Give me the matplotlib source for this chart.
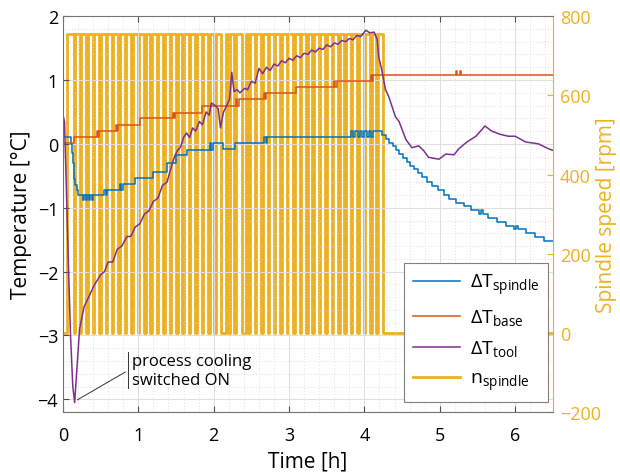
import numpy as np
import matplotlib.pyplot as plt
from matplotlib.ticker import MultipleLocator

plt.rcParams['font.family'] = ['Open Sans', 'DejaVu Sans']

BLUE = (0.0, 0.447, 0.741)
RED = (0.85, 0.325, 0.098)
PURPLE = (0.494, 0.184, 0.556)
YEL = (0.929, 0.694, 0.125)

# spindle temperature (steps)
sp_t = [0.00, 0.11, 0.12, 0.13, 0.14, 0.15, 0.16, 0.18, 0.20, 0.26, 0.28, 0.30, 0.32, 0.34, 0.36, 0.38,
        0.40, 0.55, 0.57, 0.59, 0.61, 0.75, 0.77, 0.79, 0.95, 1.20, 1.38, 1.50, 1.64, 1.95, 1.97, 1.99,
        2.01, 2.12, 2.28, 2.67, 2.69, 2.71, 3.82, 3.85, 3.88, 3.91, 3.94, 3.97, 4.00, 4.03, 4.06, 4.09,
        4.12, 4.15, 4.24, 4.28, 4.33, 4.38, 4.42, 4.46, 4.51, 4.56, 4.61, 4.66, 4.71, 4.76, 4.83, 4.90,
        4.97, 5.05, 5.12, 5.22, 5.32, 5.42, 5.52, 5.55, 5.58, 5.64, 5.76, 5.88, 5.98, 6.01, 6.04, 6.14,
        6.26, 6.38, 6.50]
sp_T = [0.10, 0.00, -0.15, -0.30, -0.45, -0.55, -0.65, -0.72, -0.80, -0.88, -0.80, -0.88, -0.80, -0.88, -0.80, -0.88,
        -0.80, -0.72, -0.80, -0.72, -0.72, -0.63, -0.72, -0.63, -0.53, -0.44, -0.30, -0.17, -0.09, 0.02, -0.09, 0.02,
        0.02, -0.08, 0.02, 0.11, 0.02, 0.11, 0.20, 0.11, 0.20, 0.11, 0.20, 0.11, 0.20, 0.11, 0.20, 0.11,
        0.20, 0.20, 0.14, 0.08, 0.02, -0.04, -0.10, -0.16, -0.22, -0.28, -0.34, -0.40, -0.46, -0.52, -0.60, -0.66,
        -0.72, -0.80, -0.86, -0.92, -0.98, -1.04, -1.10, -1.04, -1.10, -1.16, -1.22, -1.28, -1.34, -1.28, -1.34, -1.40,
        -1.46, -1.52, -1.52]

# base temperature (steps)
bs_t = [0.00, 0.15, 0.45, 0.465, 0.48, 0.495, 0.70, 0.715, 0.73, 0.745, 1.02, 1.46, 1.475, 1.49, 1.505,
        1.84, 2.30, 2.315, 2.33, 2.345, 2.67, 2.685, 2.70, 2.715, 3.09, 3.60, 3.615, 3.63, 3.645,
        4.09, 4.105, 4.12, 4.135, 5.22, 5.235, 5.27, 5.285, 6.50]
bs_T = [0.02, 0.10, 0.20, 0.10, 0.20, 0.20, 0.30, 0.20, 0.30, 0.30, 0.40, 0.48, 0.40, 0.48, 0.48,
        0.60, 0.70, 0.60, 0.70, 0.70, 0.80, 0.70, 0.80, 0.80, 0.89, 0.98, 0.89, 0.98, 0.98,
        1.08, 0.98, 1.08, 1.08, 1.14, 1.08, 1.14, 1.08, 1.08]

# tool temperature
tl_t = [0.00, 0.02, 0.04, 0.07, 0.10, 0.13, 0.155, 0.18, 0.22, 0.28, 0.36, 0.42, 0.50, 0.55, 0.60, 0.66,
        0.72, 0.78, 0.85, 0.90, 0.96, 1.02, 1.08, 1.14, 1.20, 1.26, 1.32, 1.38, 1.44, 1.48, 1.52, 1.56,
        1.60, 1.64, 1.68, 1.72, 1.76, 1.81, 1.85, 1.90, 1.94, 1.97, 2.02, 2.06, 2.09, 2.13, 2.17, 2.21,
        2.24, 2.27, 2.31, 2.35, 2.41, 2.45, 2.50, 2.55, 2.60, 2.65, 2.70, 2.75, 2.80, 2.85, 2.90, 2.95,
        3.00, 3.05, 3.10, 3.15, 3.20, 3.25, 3.30, 3.35, 3.40, 3.45, 3.50, 3.55, 3.60, 3.65, 3.70, 3.75,
        3.80, 3.85, 3.90, 3.95, 4.02, 4.07, 4.13, 4.17, 4.19, 4.23, 4.28, 4.32, 4.41, 4.46, 4.55, 4.63,
        4.72, 4.79, 4.85, 4.99, 5.08, 5.19, 5.25, 5.36, 5.48, 5.60, 5.69, 5.80, 5.91, 6.00, 6.14, 6.31,
        6.45, 6.50]
tl_T = [0.45, 0.35, -0.50, -1.80, -3.00, -3.80, -4.05, -3.60, -2.90, -2.55, -2.35, -2.20, -2.05, -2.00, -1.85, -1.85,
        -1.65, -1.60, -1.45, -1.45, -1.30, -1.25, -1.10, -1.05, -0.90, -0.85, -0.65, -0.60, -0.35, -0.20, -0.10, -0.05,
        0.10, 0.17, 0.10, 0.25, 0.20, 0.35, 0.30, 0.50, 0.45, 0.64, 0.60, 0.55, 0.25, 0.50, 0.59, 0.70,
        1.12, 0.82, 0.85, 0.80, 0.87, 0.85, 0.98, 0.95, 1.18, 1.10, 1.20, 1.15, 1.25, 1.22, 1.30, 1.27,
        1.34, 1.31, 1.38, 1.35, 1.42, 1.40, 1.47, 1.44, 1.50, 1.48, 1.55, 1.52, 1.58, 1.56, 1.62, 1.60,
        1.65, 1.63, 1.70, 1.68, 1.78, 1.74, 1.75, 1.63, 1.36, 1.16, 0.85, 0.75, 0.43, 0.35, 0.07, -0.06,
        -0.03, -0.11, -0.21, -0.24, -0.16, -0.17, -0.08, 0.03, 0.12, 0.28, 0.20, 0.15, 0.12, 0.12, 0.03, 0.00,
        -0.08, -0.10]

# spindle speed: on from n_start, short stops (start, length), off from n_end
n_on = 755
n_start = 0.05
n_end = 4.25
stop_t = [0.14, 0.225, 0.31, 0.395, 0.48, 0.565, 0.65, 0.735, 0.82, 0.905, 0.99, 1.075, 1.16, 1.245,
          1.33, 1.415, 1.50, 1.585, 1.67, 1.755, 1.84, 1.925, 2.01, 2.10, 2.19, 2.275, 2.37, 2.46,
          2.545, 2.63, 2.715, 2.80, 2.885, 2.97, 3.055, 3.14, 3.225, 3.31, 3.395, 3.48, 3.565, 3.65,
          3.735, 3.82, 3.905, 3.99, 4.075, 4.16]
stop_len = [0.02] * 23 + [0.06, 0.02, 0.02, 0.055] + [0.02] * 21

spd_t = [0.0, n_start]
spd_v = [0, 0]
for s, d in zip(stop_t, stop_len):
    spd_t += [spd_t[-1], s, s, s + d]
    spd_v += [n_on, n_on, 0, 0]
spd_t += [spd_t[-1], n_end, n_end, 6.5]
spd_v += [n_on, n_on, 0, 0]

fig = plt.figure(figsize=(6.2, 4.77), dpi=100)
ax = fig.add_axes([0.1016, 0.134, 0.79, 0.830])
ax2 = ax.twinx()
ax.set_zorder(ax2.get_zorder() + 1)
ax.patch.set_visible(False)

l4, = ax2.plot(spd_t, spd_v, color=YEL, lw=2.0)
ax2.set_ylim(-200, 800)
ax2.set_yticks([-200, 0, 200, 400, 600, 800])
ax2.tick_params(axis='y', colors=YEL, direction='in', labelsize=13, length=4, pad=5)
ax2.set_ylabel('Spindle speed [rpm]', color=YEL, fontsize=15)
ax2.yaxis.set_label_coords(1.088, 0.5)
for s in ['left', 'top', 'bottom']:
    ax2.spines[s].set_visible(False)
ax2.spines['right'].set_color(YEL)

l1, = ax.plot(sp_t, sp_T, color=BLUE, lw=1.1, drawstyle='steps-post')
l2, = ax.plot(bs_t, bs_T, color=RED, lw=1.1, drawstyle='steps-post')
l3, = ax.plot(tl_t, tl_T, color=PURPLE, lw=1.1)

ax.set_xlim(0, 6.5)
ax.set_ylim(-4.2, 2)
ax.set_xticks(range(0, 7))
ax.set_yticks(range(-4, 3))
ax.xaxis.set_minor_locator(MultipleLocator(0.2))
ax.yaxis.set_minor_locator(MultipleLocator(0.2))
ax.grid(True, which='major', color='0.87', lw=0.7)
ax.grid(True, which='minor', color='0.84', lw=0.6, ls=(0, (1, 2.5)))
ax.tick_params(which='major', direction='in', top=True, labelsize=13, length=4, color='0.3')
ax.tick_params(axis='x', which='major', pad=10)
ax.tick_params(which='minor', length=0)
ax.spines['right'].set_visible(False)
for s in ['left', 'top', 'bottom']:
    ax.spines[s].set_color('0.45')
ax.set_xlabel('Time [h]', fontsize=15, labelpad=5)
ax.set_ylabel('Temperature [°C]', fontsize=15)

ax.annotate('', xy=(0.16, -4.03), xytext=(0.86, -3.55),
            arrowprops=dict(arrowstyle='-', color='0.2', lw=0.7))
ax.plot([0.86, 0.86], [-3.26, -3.82], color='0.2', lw=0.7)
ax.text(0.91, -3.55, 'process cooling\nswitched ON', fontsize=12, va='center', ha='left',
        linespacing=1.3)

leg = ax.legend([l1, l2, l3, l4],
                ['ΔT$_{\\mathregular{spindle}}$', 'ΔT$_{\\mathregular{base}}$',
                 'ΔT$_{\\mathregular{tool}}$', 'n$_{\\mathregular{spindle}}$'],
                loc='lower right', bbox_to_anchor=(0.99, 0.025), borderaxespad=0, fontsize=14,
                fancybox=False, framealpha=1, edgecolor='0.5', handlelength=2.4,
                borderpad=0.45, labelspacing=0.55, handletextpad=0.5)
leg.get_frame().set_linewidth(0.8)

fig.savefig('out.png', dpi=100)
